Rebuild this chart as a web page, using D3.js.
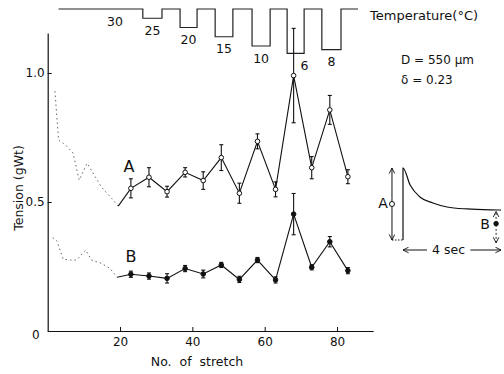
<!DOCTYPE html>
<html>
<head>
<meta charset="utf-8">
<script src="https://cdn.jsdelivr.net/npm/d3@7"></script>
<style>
  body { margin: 0; background: #fff; }
  svg { display: block; }
  text { font-family: "DejaVu Sans", sans-serif; fill: #111; }
</style>
</head>
<body>
<svg id="chart" width="504" height="374"></svg>
<script>
// early part of each run (dotted, no error bars)
const stretchEarlyA = [2, 3, 5, 7, 8.7, 10.9, 14.9, 17.7, 19.5];
const tensionEarlyA = [0.93, 0.74, 0.72, 0.69, 0.585, 0.65, 0.557, 0.514, 0.484];
const stretchEarlyB = [1.4, 2.5, 4.3, 6.2, 8, 10.5, 12.1, 14.9, 17.2, 19.2];
const tensionEarlyB = [0.362, 0.35, 0.278, 0.275, 0.275, 0.314, 0.275, 0.262, 0.243, 0.208];

// measured points with error bars
const stretchMeasured = [23, 28, 33, 38, 43, 48, 53, 58, 63, 68, 73, 78, 83];
const tensionA = [0.553, 0.596, 0.540, 0.615, 0.583, 0.672, 0.534, 0.735, 0.549, 0.99, 0.633, 0.857, 0.598];
const errA     = [0.037, 0.037, 0.021, 0.018, 0.034, 0.05, 0.039, 0.029, 0.029, 0.183, 0.043, 0.056, 0.027];
const tensionB = [0.22, 0.213, 0.204, 0.242, 0.221, 0.256, 0.2, 0.275, 0.198, 0.453, 0.247, 0.346, 0.234];
const errB     = [0.012, 0.012, 0.018, 0.012, 0.015, 0.01, 0.012, 0.01, 0.012, 0.08, 0.01, 0.02, 0.012];

// temperature protocol (step trace on top)
const tempEdges  = [3, 26.3, 31.6, 36.6, 41.3, 46.3, 51.2, 56.5, 61.5, 66.2, 70.9, 75.8, 81.1, 85.8];
const tempLevels = [30, 25, 30, 20, 30, 15, 30, 10, 30, 6, 30, 8, 30];

const xTicks = [20, 40, 60, 80];
const yTicks = [0, 0.5, 1.0];

// inset: schematic tension response
const insetTime    = [0, 0.29, 0.69, 1.22, 1.8, 2.61, 3.88, 4];
const insetTension = [1.0, 0.764, 0.597, 0.514, 0.458, 0.431, 0.417, 0.416];

const svg = d3.select("#chart");

const x = d3.scaleLinear().domain([0, 90]).range([47.7, 373.2]);
const y = d3.scaleLinear().domain([0, 1.155]).range([331, 33]);
const tempY = d3.scaleLinear().domain([10, 30]).range([46, 9]);

// arrow marker
const defs = svg.append("defs");
defs.append("marker")
  .attr("id", "arr")
  .attr("viewBox", "0 0 10 10")
  .attr("refX", 9).attr("refY", 5)
  .attr("markerWidth", 7).attr("markerHeight", 7)
  .attr("markerUnits", "userSpaceOnUse")
  .attr("orient", "auto-start-reverse")
  .append("path")
  .attr("d", "M1,1 L9,5 L1,9")
  .attr("fill", "none")
  .attr("stroke", "#111")
  .attr("stroke-width", 1.3);

// axes
const xAxis = d3.axisBottom(x).tickValues(xTicks).tickSizeInner(-4).tickSizeOuter(0).tickPadding(6);
const yAxis = d3.axisLeft(y).tickValues(yTicks).tickSizeInner(-4).tickSizeOuter(0).tickPadding(3)
  .tickFormat(d => d === 0 ? "0" : d3.format(".1f")(d));

const gx = svg.append("g").attr("transform", `translate(0,${y(0)})`).call(xAxis);
const gy = svg.append("g").attr("transform", `translate(${x(0)},0)`).call(yAxis);
[gx, gy].forEach(g => {
  g.select(".domain").attr("stroke", "#111").attr("stroke-width", 1.2);
  g.selectAll(".tick line").attr("stroke", "#111");
  g.selectAll(".tick text").style("font-family", "DejaVu Sans, sans-serif").style("font-size", "12px").attr("fill", "#111");
});
gy.selectAll(".tick text").filter(d => d === 0).attr("x", -8).attr("dy", "0.6em");

svg.append("text")
  .attr("transform", `translate(19,188) rotate(-90)`)
  .attr("text-anchor", "middle")
  .attr("dominant-baseline", "middle")
  .style("font-size", "12.5px")
  .text("Tension  (gWt)");

svg.append("text")
  .attr("x", 197).attr("y", 366)
  .attr("text-anchor", "middle")
  .style("font-size", "12.5px")
  .style("word-spacing", "4px")
  .text("No.  of  stretch");

// temperature trace
const tempPts = [];
tempLevels.forEach((t, i) => {
  tempPts.push([tempEdges[i], t]);
  tempPts.push([tempEdges[i + 1], t]);
});
svg.append("path")
  .datum(tempPts)
  .attr("fill", "none")
  .attr("stroke", "#222")
  .attr("stroke-width", 1.2)
  .attr("d", d3.line().x(d => x(d[0])).y(d => tempY(d[1])));

tempLevels.forEach((t, i) => {
  if (t === 30 && i > 0) return;
  let cx = (tempEdges[i] + tempEdges[i + 1]) / 2;
  if (t === 30) cx = 18.6;
  if (t === 6) cx = 71;
  svg.append("text")
    .attr("x", x(cx)).attr("y", tempY(t) + 13)
    .attr("text-anchor", "middle")
    .attr("dominant-baseline", "middle")
    .style("font-size", "12.5px")
    .text(t);
});

svg.append("text")
  .attr("x", 370).attr("y", 16)
  .attr("dominant-baseline", "middle")
  .style("font-size", "13px")
  .text("Temperature(°C)");

// dotted early runs
const line = d3.line().x(d => x(d[0])).y(d => y(d[1]));
[[stretchEarlyA, tensionEarlyA], [stretchEarlyB, tensionEarlyB]].forEach(([sx, sy]) => {
  svg.append("path")
    .datum(sx.map((s, i) => [s, sy[i]]))
    .attr("fill", "none")
    .attr("stroke", "#666")
    .attr("stroke-width", 1)
    .attr("stroke-dasharray", "1.5,3")
    .attr("d", line);
});

// solid runs with error bars
function drawSeries(vals, errs, early, filled) {
  const pts = stretchMeasured.map((s, i) => [s, vals[i], errs[i]]);
  const lastEarly = [early[0][early[0].length - 1], early[1][early[1].length - 1]];
  svg.append("path")
    .datum([lastEarly].concat(pts))
    .attr("fill", "none")
    .attr("stroke", "#111")
    .attr("stroke-width", 1.1)
    .attr("d", line);

  const g = svg.append("g").selectAll("g").data(pts).join("g");
  g.append("line")
    .attr("x1", d => x(d[0])).attr("x2", d => x(d[0]))
    .attr("y1", d => y(d[1] - d[2])).attr("y2", d => y(d[1] + d[2]))
    .attr("stroke", "#111").attr("stroke-width", 1.1);
  [-1, 1].forEach(sgn => {
    g.append("line")
      .attr("x1", d => x(d[0]) - 2).attr("x2", d => x(d[0]) + 2)
      .attr("y1", d => y(d[1] + sgn * d[2])).attr("y2", d => y(d[1] + sgn * d[2]))
      .attr("stroke", "#111").attr("stroke-width", 1.1);
  });
  g.append("circle")
    .attr("cx", d => x(d[0])).attr("cy", d => y(d[1]))
    .attr("r", 2.3)
    .attr("fill", filled ? "#111" : "#fff")
    .attr("stroke", "#111").attr("stroke-width", 1);
}
drawSeries(tensionA, errA, [stretchEarlyA, tensionEarlyA], false);
drawSeries(tensionB, errB, [stretchEarlyB, tensionEarlyB], true);

svg.append("text").attr("x", 129).attr("y", 167)
  .attr("text-anchor", "middle").attr("dominant-baseline", "middle")
  .style("font-size", "16px").text("A");
svg.append("text").attr("x", 131).attr("y", 257)
  .attr("text-anchor", "middle").attr("dominant-baseline", "middle")
  .style("font-size", "16px").text("B");

// parameters
svg.append("text").attr("x", 401).attr("y", 60).attr("dominant-baseline", "middle")
  .style("font-size", "12px").text("D = 550 µm");
svg.append("text").attr("x", 401).attr("y", 80).attr("dominant-baseline", "middle")
  .style("font-size", "12px").text("δ = 0.23");

// inset schematic
const ix = d3.scaleLinear().domain([0, 4]).range([403, 501]);
const iy = d3.scaleLinear().domain([0, 1]).range([240, 168]);
const inset = svg.append("g");

inset.append("path")
  .datum([[0, 0], [0, 1]].concat(insetTime.slice(1).map((t, i) => [t, insetTension[i + 1]])))
  .attr("fill", "none").attr("stroke", "#111").attr("stroke-width", 1.2)
  .attr("d", d3.line().x(d => ix(d[0])).y(d => iy(d[1])).curve(d3.curveMonotoneX));
inset.append("line")
  .attr("x1", ix(-0.45)).attr("x2", ix(0))
  .attr("y1", iy(0)).attr("y2", iy(0))
  .attr("stroke", "#111").attr("stroke-dasharray", "1.5,1.5");

// A arrow
inset.append("line")
  .attr("x1", ix(-0.45)).attr("x2", ix(-0.45))
  .attr("y1", iy(0)).attr("y2", iy(1))
  .attr("stroke", "#111").attr("stroke-width", 1)
  .attr("marker-start", "url(#arr)").attr("marker-end", "url(#arr)");
inset.append("circle").attr("cx", ix(-0.45)).attr("cy", iy(0.5)).attr("r", 2.5)
  .attr("fill", "#fff").attr("stroke", "#111");
inset.append("text").attr("x", ix(-0.45) - 9).attr("y", iy(0.5))
  .attr("text-anchor", "middle").attr("dominant-baseline", "middle")
  .style("font-size", "14px").text("A");

// B arrow
const bT = 3.8;
const bV = insetTension[6];
inset.append("line")
  .attr("x1", ix(bT)).attr("x2", ix(bT))
  .attr("y1", iy(-0.04)).attr("y2", iy(bV - 0.02))
  .attr("stroke", "#111").attr("stroke-width", 0.9).attr("stroke-dasharray", "2,2")
  .attr("marker-start", "url(#arr)").attr("marker-end", "url(#arr)");
inset.append("circle").attr("cx", ix(bT)).attr("cy", iy(bV / 2 + 0.02)).attr("r", 2.6)
  .attr("fill", "#111");
inset.append("text").attr("x", ix(bT) - 11).attr("y", iy(bV / 2 + 0.02) + 1)
  .attr("text-anchor", "middle").attr("dominant-baseline", "middle")
  .style("font-size", "14px").text("B");

// 4 sec arrow
const yT = 250;
inset.append("line").attr("x1", ix(0.98)).attr("x2", ix(0)).attr("y1", yT).attr("y2", yT)
  .attr("stroke", "#111").attr("marker-end", "url(#arr)");
inset.append("line").attr("x1", ix(2.75)).attr("x2", ix(4)).attr("y1", yT).attr("y2", yT)
  .attr("stroke", "#111").attr("marker-end", "url(#arr)");
inset.append("text").attr("x", ix(1.86)).attr("y", yT)
  .attr("text-anchor", "middle").attr("dominant-baseline", "middle")
  .style("font-size", "12.5px").text("4 sec");
</script>
</body>
</html>
